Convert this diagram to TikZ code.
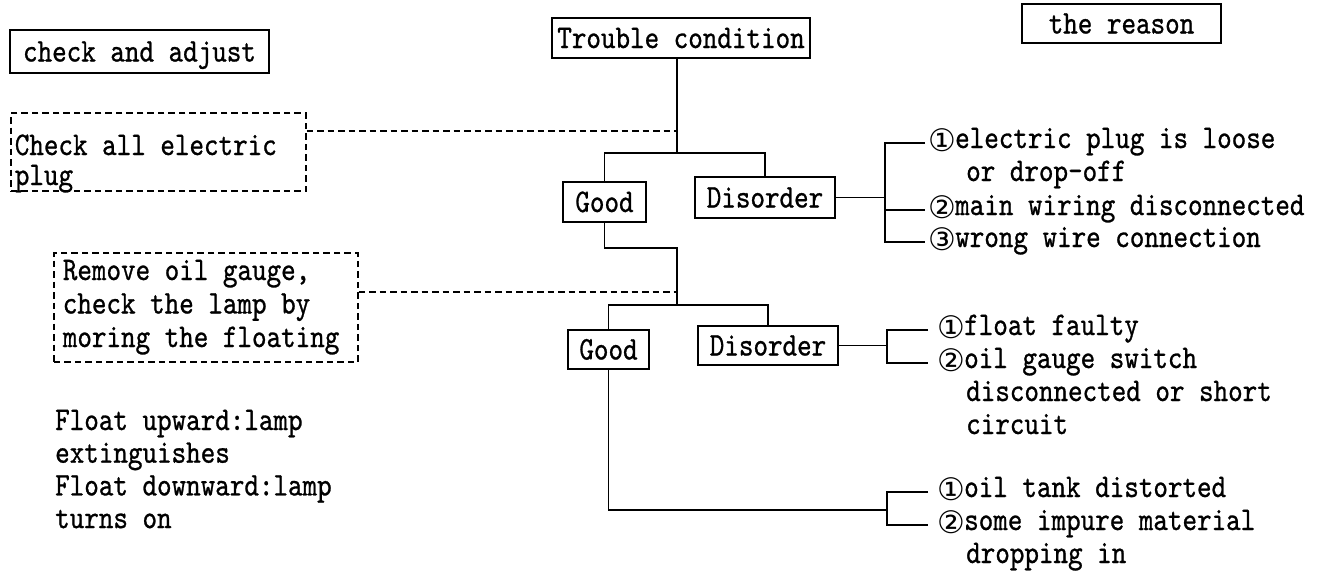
\documentclass[tikz,border=0pt]{standalone}
\usepackage{fontspec}
\newfontfamily\tw{lmmono10-regular.otf}[FakeStretch=0.84,FakeBold=0.8]
\newfontfamily\dv{DejaVu Sans}
\newcommand\circnum[1]{\makebox[27pt][l]{\raisebox{-3pt}{\dv\fontsize{31}{31}\selectfont #1}}}
\begin{document}
\begin{tikzpicture}[x=1pt,y=-1pt,
  T/.style={font=\tw\fontsize{33}{33}\selectfont, inner sep=0pt},
  box/.style={T, draw, line width=1.8pt, text height=20pt, text depth=0pt},
  dbox/.style={T, draw, line width=1.7pt, dash pattern=on 6.5pt off 4pt, inner ysep=0pt},
  ln/.style={line width=1.8pt},
  dln/.style={line width=1.7pt, dash pattern=on 6.5pt off 4pt},
  reason/.style={T, anchor=base west, text height=15pt, text depth=5pt}]
\path[fill=white,use as bounding box] (0,0) rectangle (1321,573);

% header boxes
\node[box, minimum width=259pt, minimum height=43pt] (ca) at (139.5,51.5) {check and adjust};
\node[box, minimum width=258pt, minimum height=40pt] (tc) at (681,38) {Trouble condition};
\node[box, minimum width=199pt, minimum height=39pt] (rh) at (1121.5,23.5) {the reason};

% decision boxes
\node[box, minimum width=83pt, minimum height=40pt] (g1) at (604.5,202) {Good};
\node[box, minimum width=140pt, minimum height=41pt] (d1) at (765,197.5) {Disorder};
\node[box, minimum width=81pt, minimum height=39pt] (g2) at (608.5,349.5) {Good};
\node[box, minimum width=140pt, minimum height=39pt] (d2) at (768,345.5) {Disorder};

% check boxes (dashed)
\node[dbox, anchor=base west, text height=42pt, text depth=36pt, inner xsep=4pt] (cp) at (10,155)
  {\makebox[287pt][l]{\vtop{\baselineskip=30pt\hbox{Check all electric}\hbox{plug}}}};
\node[dbox, anchor=base west, text height=27pt, text depth=82pt, inner xsep=9pt] (rg) at (53,280)
  {\makebox[286pt][l]{\vtop{\baselineskip=33.5pt\hbox{Remove oil gauge,}\hbox{check the lamp by}\hbox{moring the floating}}}};
\node[T, anchor=base west] (fl) at (55,430)
  {\vtop{\baselineskip=32.7pt\hbox{Float upward:lamp}\hbox{extinguishes}\hbox{Float downward:lamp}\hbox{turns on}}};

% reasons
\node[reason] (r11) at (928,148) {\vtop{\hbox{\circnum{①}electric plug is loose}\hbox{\kern38pt or drop-off}}};
\node[reason] (r12) at (928,215) {\circnum{②}main wiring disconnected};
\node[reason] (r13) at (928,247) {\circnum{③}wrong wire connection};
\node[reason] (r21) at (937,335) {\circnum{①}float faulty};
\node[reason] (r22) at (937,368) {\vtop{\hbox{\circnum{②}oil gauge switch}\hbox{\kern29pt disconnected or short}\hbox{\kern29pt circuit}}};
\node[reason] (r31) at (937,497) {\circnum{①}oil tank distorted};
\node[reason] (r32) at (937,530) {\vtop{\hbox{\circnum{②}some impure material}\hbox{\kern29pt dropping in}}};

% coordinates
\coordinate (j1) at (677,153);
\coordinate (t1) at (677,131);
\coordinate (k1) at (677,248);
\coordinate (j2) at (677,305);
\coordinate (t2) at (677,292);
\coordinate (b1) at (885,194);
\coordinate (b2) at (887,345.5);
\coordinate (b3) at (887,510);

% tree
\draw[ln] (tc.south -| j1) -- (j1);
\draw[ln] (g1.north) |- (j1) -| (d1.north);
\draw[ln] (g1.south) |- (k1) -- (j2);
\draw[ln] (g2.north) |- (j2) -| (d2.north);
\draw[ln] (g2.south) |- (b3);

% dashed links
\draw[dln] (cp.east |- t1) -- (t1);
\draw[dln] (rg.east |- t2) -- (t2);

% brackets
\draw[ln] (d1.east) -- (d1.east -| b1);
\draw[ln] ([xshift=-3pt]r11.west) -| (b1) |- ([xshift=-3pt]r13.west);
\draw[ln] (b1 |- r12.west) -- ([xshift=-3pt]r12.west);
\draw[ln] (d2.east) -- (d2.east -| b2);
\draw[ln] ([xshift=-9pt]r21.west) -| (b2) |- ([xshift=-9pt]r22.west);
\draw[ln] ([xshift=-9pt]r31.west) -| (b3) |- ([xshift=-9pt]r32.west);
\end{tikzpicture}
\end{document}
